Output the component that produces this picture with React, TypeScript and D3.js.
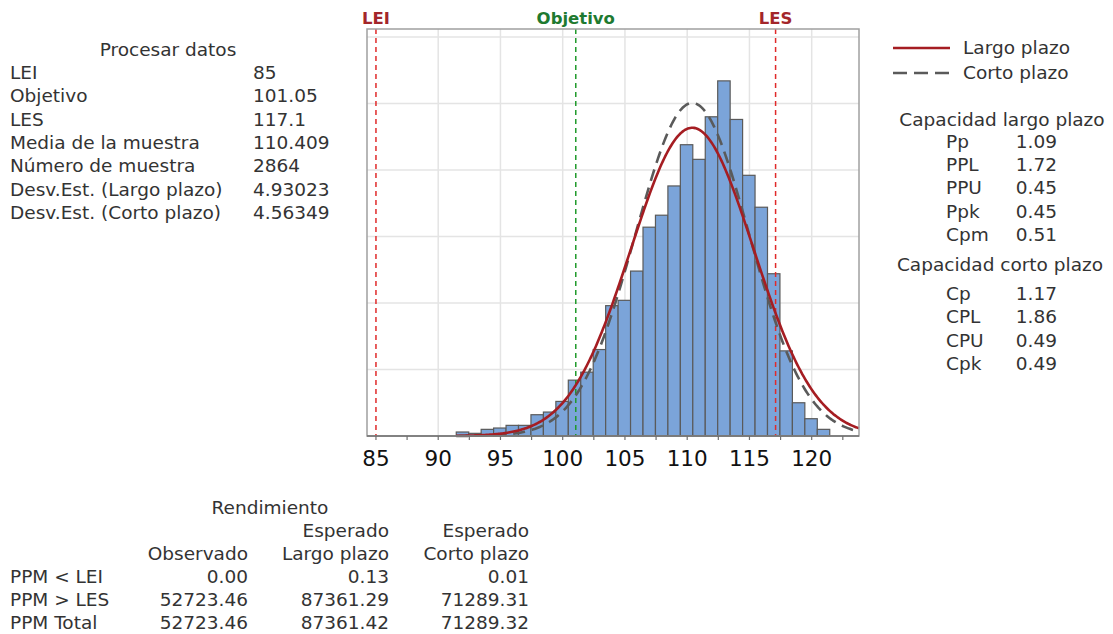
import React from 'react';
import * as d3 from 'd3';

// histogram (bin width 1, first bin starts at 91.45)
const binStart = 91.45;
const binWidth = 1;
const counts = [3, 2, 5, 6, 8, 8, 16, 18, 26, 42, 48, 65, 98, 102, 124, 157, 166, 188, 219, 208, 240, 267, 238, 196, 172, 122, 64, 25, 13, 5];
const xTicks = [85, 90, 95, 100, 105, 110, 115, 120];
const yGrid = [50, 100, 150, 200, 250, 300];

const specNames = ['LEI', 'Objetivo', 'LES'];
const specValues = [85, 101.05, 117.1];

const sampleMean = 110.409;
const sampleN = 2864;
const sdLong = 4.93023;
const sdShort = 4.56349;

const processLabels = ['LEI', 'Objetivo', 'LES', 'Media de la muestra', 'Número de muestra', 'Desv.Est. (Largo plazo)', 'Desv.Est. (Corto plazo)'];
const processValues = ['85', '101.05', '117.1', '110.409', '2864', '4.93023', '4.56349'];

const longLabels = ['Pp', 'PPL', 'PPU', 'Ppk', 'Cpm'];
const longValues = ['1.09', '1.72', '0.45', '0.45', '0.51'];
const shortLabels = ['Cp', 'CPL', 'CPU', 'Cpk'];
const shortValues = ['1.17', '1.86', '0.49', '0.49'];

const ppmLabels = ['PPM < LEI', 'PPM > LES', 'PPM Total'];
const ppmObserved = ['0.00', '52723.46', '52723.46'];
const ppmLong = ['0.13', '87361.29', '87361.42'];
const ppmShort = ['0.01', '71289.31', '71289.32'];

const W = 1113;
const H = 634;
const plot = { left: 367, right: 859, top: 29, bottom: 436 };
const font = '"DejaVu Sans", "Noto Sans", sans-serif';
const textColor = '#333333';
const fs = 18.5;

const x = d3.scaleLinear().domain([84.28, 123.8]).range([plot.left, plot.right]);
const y = d3.scaleLinear().domain([0, 306]).range([plot.bottom, plot.top]);

// fitted normal curves scaled to counts
const normal = (sd: number) => (v: number) =>
  sampleN * binWidth * Math.exp(-0.5 * ((v - sampleMean) / sd) ** 2) / (sd * Math.sqrt(2 * Math.PI));

const curveX = d3.range(binStart, 123.8, 0.1).concat([123.8]);
const curvePath = (sd: number) => {
  const f = normal(sd);
  return d3.line<number>().x((v) => x(v)).y((v) => y(f(v)))(curveX) || '';
};

const specColors = ['#e02a2a', '#1f9a2a', '#e02a2a'];
const specText = ['#a3262a', '#1e7a30', '#a3262a'];

export default function App() {
  const minorTicks = d3.range(85, 123.8, 2.5);
  return (
    <svg width={W} height={H} style={{ position: 'absolute', left: 0, top: 0, background: '#fff' }} fontFamily={font}>
      {/* grid */}
      {xTicks.slice(1).map((t) => (
        <line key={'gx' + t} x1={x(t)} x2={x(t)} y1={plot.top} y2={plot.bottom} stroke="#e4e4e4" strokeWidth={1.5} />
      ))}
      {yGrid.map((g) => (
        <line key={'gy' + g} x1={plot.left} x2={plot.right} y1={y(g)} y2={y(g)} stroke="#e4e4e4" strokeWidth={1.5} />
      ))}

      {/* bars */}
      {counts.map((c, i) => {
        const x0 = binStart + i * binWidth;
        return (
          <rect key={'b' + i} x={x(x0)} y={y(c)} width={x(x0 + binWidth) - x(x0)} height={y(0) - y(c)}
            fill="#7ba4d9" stroke="#5a5a5a" strokeWidth={1.2} />
        );
      })}

      {/* spec lines */}
      {specValues.map((v, i) => (
        <line key={'s' + i} x1={x(v)} x2={x(v)} y1={plot.top} y2={plot.bottom}
          stroke={specColors[i]} strokeWidth={1.5} strokeDasharray="5,4" />
      ))}

      {/* fitted curves */}
      <path d={curvePath(sdShort)} fill="none" stroke="#5a5a5a" strokeWidth={2.6} strokeDasharray="12,7" />
      <path d={curvePath(sdLong)} fill="none" stroke="#a51d22" strokeWidth={2.6} />

      {/* frame */}
      <rect x={plot.left} y={plot.top} width={plot.right - plot.left} height={plot.bottom - plot.top}
        fill="none" stroke="#a0a0a0" strokeWidth={1.5} />
      <line x1={plot.left} x2={plot.right} y1={plot.bottom} y2={plot.bottom} stroke="#707070" strokeWidth={1.5} />

      {/* x axis */}
      {minorTicks.map((t) => (
        <line key={'t' + t} x1={x(t)} x2={x(t)} y1={plot.bottom} y2={plot.bottom + 4} stroke="#707070" strokeWidth={1.2} />
      ))}
      {xTicks.map((t) => (
        <text key={'xl' + t} x={x(t)} y={466} textAnchor="middle" fontSize={21.5} fill="#111">{t}</text>
      ))}

      {/* spec labels */}
      {specNames.map((n, i) => (
        <text key={'sl' + i} x={x(specValues[i])} y={24} textAnchor="middle" fontSize={16.5} fontWeight="bold" fill={specText[i]}>{n}</text>
      ))}

      {/* process data */}
      <g fontSize={fs} fill={textColor}>
        <text x={168} y={56} textAnchor="middle">Procesar datos</text>
        {processLabels.map((l, i) => (
          <text key={'pl' + i} x={10} y={79 + i * 23.3}>{l}</text>
        ))}
        {processValues.map((v, i) => (
          <text key={'pv' + i} x={253} y={79 + i * 23.3}>{v}</text>
        ))}
      </g>

      {/* legend */}
      <line x1={893} x2={950} y1={48} y2={48} stroke="#a51d22" strokeWidth={2.6} />
      <line x1={893} x2={950} y1={73} y2={73} stroke="#5a5a5a" strokeWidth={2.6} strokeDasharray="14,7" />
      <g fontSize={fs} fill={textColor}>
        <text x={963} y={54}>Largo plazo</text>
        <text x={963} y={79}>Corto plazo</text>

        <text x={1002} y={126} textAnchor="middle">Capacidad largo plazo</text>
        {longLabels.map((l, i) => (
          <text key={'ll' + i} x={946} y={147.5 + i * 23.4}>{l}</text>
        ))}
        {longValues.map((v, i) => (
          <text key={'lv' + i} x={1057} y={147.5 + i * 23.4} textAnchor="end">{v}</text>
        ))}

        <text x={1000} y={271} textAnchor="middle">Capacidad corto plazo</text>
        {shortLabels.map((l, i) => (
          <text key={'cl' + i} x={946} y={300 + i * 23.4}>{l}</text>
        ))}
        {shortValues.map((v, i) => (
          <text key={'cv' + i} x={1057} y={300 + i * 23.4} textAnchor="end">{v}</text>
        ))}
      </g>

      {/* performance table */}
      <g fontSize={fs} fill={textColor}>
        <text x={270} y={514} textAnchor="middle">Rendimiento</text>
        <text x={389} y={537} textAnchor="end">Esperado</text>
        <text x={529} y={537} textAnchor="end">Esperado</text>
        <text x={248} y={560} textAnchor="end">Observado</text>
        <text x={389} y={560} textAnchor="end">Largo plazo</text>
        <text x={529} y={560} textAnchor="end">Corto plazo</text>
        {ppmLabels.map((l, i) => (
          <g key={'pp' + i}>
            <text x={10} y={583 + i * 23}>{l}</text>
            <text x={248} y={583 + i * 23} textAnchor="end">{ppmObserved[i]}</text>
            <text x={389} y={583 + i * 23} textAnchor="end">{ppmLong[i]}</text>
            <text x={529} y={583 + i * 23} textAnchor="end">{ppmShort[i]}</text>
          </g>
        ))}
      </g>
    </svg>
  );
}
